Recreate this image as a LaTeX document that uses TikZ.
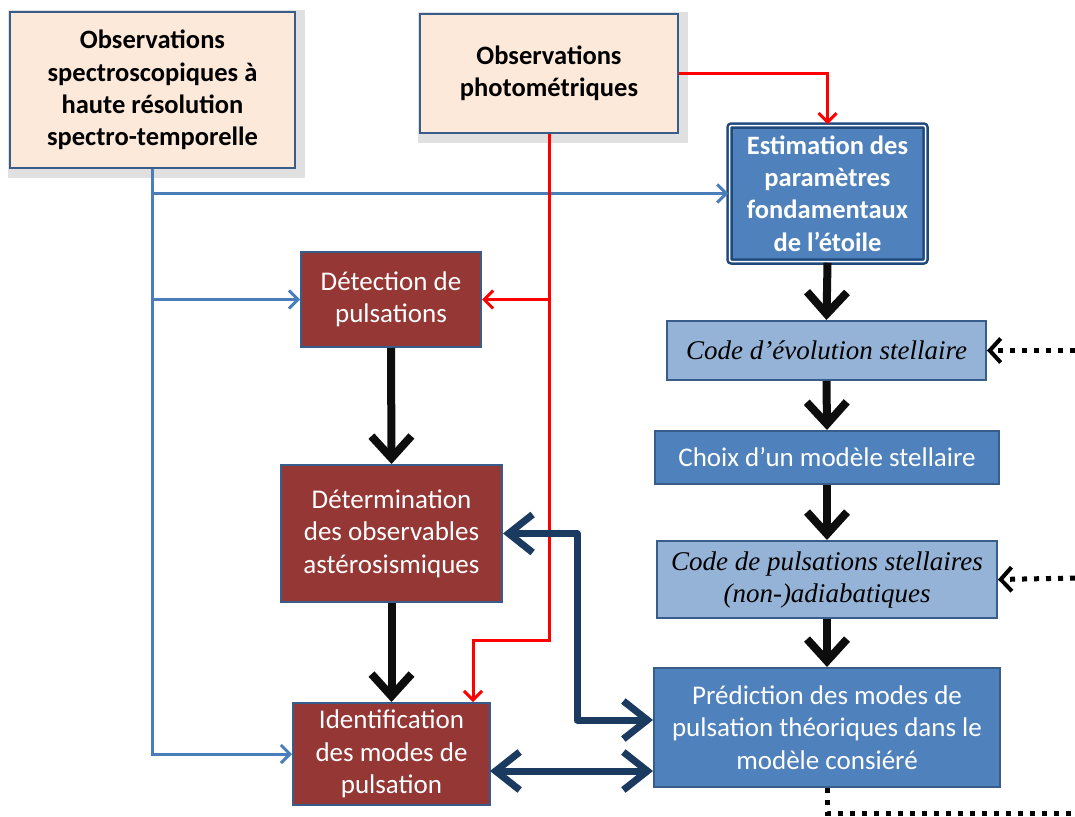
\documentclass[tikz,border=0pt]{standalone}
\usepackage{fontspec}
\setmainfont{Carlito}
\newfontfamily\tnr{Liberation Serif}
\usetikzlibrary{arrows.meta,calc}
\definecolor{peach}{HTML}{FDE9D9}
\definecolor{bord}{HTML}{385D8A}
\definecolor{bluef}{HTML}{4F81BD}
\definecolor{lightb}{HTML}{95B3D7}
\definecolor{darkred}{HTML}{953735}
\definecolor{navy}{HTML}{1B3A5F}
\definecolor{conblue}{HTML}{4A7EBB}
\definecolor{dblb}{HTML}{1F497D}
\begin{document}
\begin{tikzpicture}[x=1pt,y=-1pt,
  box/.style={draw=bord, line width=2pt, align=center, inner sep=0pt,
    font=\fontsize{27}{32.5}\selectfont},
  obsbox/.style={box, fill=peach, text=black, font=\fontsize{26.5}{32.3}\selectfont\bfseries},
  redbox/.style={box, fill=darkred, text=white},
  bluebox/.style={box, fill=bluef, text=white},
  lbbox/.style={box, fill=lightb, text=black, font=\fontsize{27}{32}\selectfont\tnr\itshape},
  bluecon/.style={draw=conblue, line width=3pt, -{Straight Barb[length=9pt,width=18pt]}},
  redcon/.style={draw=red, line width=3pt, -{Straight Barb[length=9pt,width=18pt]}},
  blackcon/.style={draw=black!95, line width=8pt, -{Straight Barb[length=22pt,width=40pt]}},
  navycon/.style={draw=navy, line width=7pt, line join=round, {Straight Barb[length=24pt,width=38pt]}-{Straight Barb[length=24pt,width=38pt]}},
  dotcon/.style={draw=black, line width=5pt, dash pattern=on 5pt off 7pt},
  dotarr/.style={dotcon, -{Straight Barb[length=11pt,width=24pt,line width=4pt]}},
  shadowbox/.style={fill=black!12, draw=none}
]
\useasboundingbox (0,0) rectangle (1075,816);
\fill[white] (0,0) rectangle (1075,816);
% shadows
\fill[shadowbox] (8,10) rectangle (305,178);
\fill[shadowbox] (418,12) rectangle (688,143);
% nodes
\node[obsbox, minimum width=285pt, minimum height=156pt] (spectro) at (152.5,90)
  {Observations\\spectroscopiques à\\haute résolution\\spectro-temporelle};
\node[obsbox, minimum width=258pt, minimum height=119pt] (photo) at (549,73.5)
  {Observations\\photométriques};
\node[bluebox, draw=dblb, line width=2.5pt, double=white, double distance=1.5pt,
  rounded corners=2pt, minimum width=196pt, minimum height=136pt,
  font=\fontsize{26.5}{32.3}\selectfont\bfseries] (estim) at (827.5,193.5)
  {Estimation des\\paramètres\\fondamentaux\\de l’étoile};
\node[lbbox, minimum width=319pt, minimum height=59pt] (evol) at (826.5,350.5)
  {Code d’évolution stellaire};
\node[bluebox, minimum width=344pt, minimum height=53pt] (choix) at (827,457.5)
  {Choix d’un modèle stellaire};
\node[lbbox, minimum width=340pt, minimum height=77pt] (puls) at (827,579.5)
  {Code de pulsations stellaires\\(non-)adiabatiques};
\node[bluebox, minimum width=346pt, minimum height=119pt] (pred) at (827,727.5)
  {Prédiction des modes de\\pulsation théoriques dans le\\modèle consiéré};
\node[redbox, minimum width=180pt, minimum height=95pt] (detect) at (391,299.5)
  {Détection de\\pulsations};
\node[redbox, minimum width=221pt, minimum height=137pt] (determ) at (391.5,533.5)
  {Détermination\\des observables\\astérosismiques};
\node[redbox, minimum width=197pt, minimum height=102pt] (ident) at (391.5,754)
  {Identification\\des modes de\\pulsation};
% coordinates
\coordinate (r1) at (473,640);
\coordinate (n1) at (577,533.5);
\coordinate (n2) at (577,720);
\coordinate (n3) at (490,771);
\coordinate (d1) at (1075,350.5);
\coordinate (d2) at (1075,578);
\coordinate (d3) at (1075,813);
% blue connectors
\draw[bluecon] (spectro.south) -- (spectro.south |- ident.west) -- (ident.west);
\draw[bluecon] (spectro.south |- estim.west) -- (estim.west);
\draw[bluecon] (spectro.south |- detect.west) -- (detect.west);
% red connectors
\draw[redcon] (photo.east) -| (estim.north);
\draw[redcon] (photo.south) -- (photo.south |- r1) -- (r1) -- (r1 |- ident.north);
\draw[redcon] (photo.south |- detect.east) -- (detect.east);
% black arrows
\draw[blackcon] (estim.south) -- (evol.north);
\draw[blackcon] (evol.south) -- (choix.north);
\draw[blackcon] (choix.south) -- (puls.north);
\draw[blackcon] (puls.south) -- (pred.north);
\draw[blackcon] (detect.south) -- (determ.north);
\draw[blackcon] (determ.south) -- (ident.north);
% navy double arrows
\draw[navycon] (determ.east) -- (n1) -- (n2) -- (pred.west |- n2);
\draw[navycon] (n3) -- (pred.west |- n3);
% dotted
\draw[dotarr] (d1) -- (evol.east);
\draw[dotarr] (d2) -- (puls.east);
\draw[dotcon] (pred.south) -- (pred.south |- d3) -- (d3);
\end{tikzpicture}
\end{document}
